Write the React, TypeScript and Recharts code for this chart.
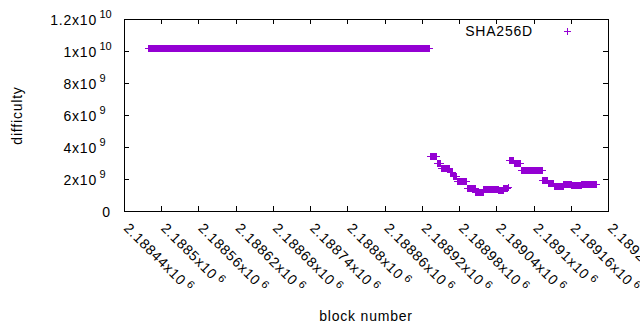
import { Legend, Scatter, ScatterChart, XAxis, YAxis } from "recharts";

const VIOLET = "#9400d3";
const FONT = '"Liberation Sans", Arial, sans-serif';

const W = 640;
const H = 330;
const MARGIN = { top: 19, right: 32, bottom: 0, left: 0 };
const X_AXIS_H = 119;
const Y_AXIS_W = 124;
const PLOT = {
  left: Y_AXIS_W,
  right: W - MARGIN.right,
  top: MARGIN.top,
  bottom: H - X_AXIS_H,
};
const TICK = 5;

// difficulty runs: first block, last block, difficulty
const segStart = [
  2188479, 2188933, 2188944, 2188951, 2188965, 2188970, 2188976, 2188992, 2189006, 2189019, 2189043,
  2189051, 2189059, 2189060, 2189068, 2189080, 2189114, 2189123, 2189133, 2189148, 2189161, 2189177,
];
const segEnd = [
  2188932, 2188943, 2188950, 2188964, 2188969, 2188975, 2188991, 2189005, 2189018, 2189042, 2189050,
  2189057, 2189059, 2189067, 2189078, 2189113, 2189122, 2189132, 2189147, 2189160, 2189176, 2189200,
];
const segDifficulty = [
  1.02e10, 3.41e9, 3.03e9, 2.69e9, 2.42e9, 2.2e9, 1.88e9, 1.44e9, 1.2e9, 1.37e9, 1.29e9,
  1.44e9, 1.53e9, 3.18e9, 2.98e9, 2.54e9, 1.92e9, 1.75e9, 1.56e9, 1.7e9, 1.62e9, 1.67e9,
];

const xTicks = [
  2188440, 2188500, 2188560, 2188620, 2188680, 2188740, 2188800, 2188860, 2188920, 2188980, 2189040,
  2189100, 2189160, 2189220,
];
const yTicks = [0, 2e9, 4e9, 6e9, 8e9, 1e10, 1.2e10];

const X_DOMAIN = [xTicks[0], xTicks[xTicks.length - 1]];
const Y_DOMAIN = [yTicks[0], yTicks[yTicks.length - 1]];

const points = segStart.flatMap((start, i) =>
  Array.from({ length: segEnd[i] - start + 1 }, (_, k) => ({
    block: start + k,
    difficulty: segDifficulty[i],
  }))
);

function sci(v: number) {
  const exp = Math.floor(Math.log10(v));
  const m = Number((v / 10 ** exp).toFixed(5)).toString();
  return { m, exp };
}

function PlusMark({ cx, cy }: any) {
  if (cx == null || cy == null) return null;
  const x = Math.round(cx) + 0.5;
  const y = Math.round(cy) + 0.5;
  return <path d={`M${x - 3.5} ${y}H${x + 3.5}M${x} ${y - 3.5}V${y + 3.5}`} stroke={VIOLET} strokeWidth={1} fill="none" />;
}

// bottom labels plus the inward tick marks on bottom and top borders
function XTickLabel({ x, y, payload }: any) {
  const { m, exp } = sci(payload.value);
  const tx = Math.round(x) + 0.5;
  const ax = x - 1;
  const ay = y + 18;
  return (
    <g>
      <path
        d={`M${tx} ${PLOT.bottom}V${PLOT.bottom - TICK}M${tx} ${PLOT.top}V${PLOT.top + TICK}`}
        stroke="#000"
        strokeWidth={1}
      />
      <text x={ax} y={ay} transform={`rotate(45 ${ax} ${ay})`} fontSize={14} letterSpacing={0.8} fill="#000">
        <tspan>{m}x10</tspan>
        <tspan dx={3} dy={-5} fontSize={11}>
          {exp}
        </tspan>
      </text>
    </g>
  );
}

// left labels plus the inward tick marks on left and right borders
function YTickLabel({ x, y, payload }: any) {
  const ty = Math.round(y) + 0.5;
  const ticks = (
    <path
      d={`M${PLOT.left} ${ty}H${PLOT.left + TICK}M${PLOT.right} ${ty}H${PLOT.right - TICK}`}
      stroke="#000"
      strokeWidth={1}
    />
  );
  if (payload.value === 0) {
    return (
      <g>
        {ticks}
        <text x={x - 14} y={y + 5.5} textAnchor="end" fontSize={14} fill="#000">
          0
        </text>
      </g>
    );
  }
  const { m, exp } = sci(payload.value);
  return (
    <g>
      {ticks}
      <text x={x - 27} y={y + 5.5} textAnchor="end" fontSize={14} letterSpacing={0.8} fill="#000">
        {m}x10
      </text>
      <text x={x - 24.5} y={y - 1} fontSize={11} fill="#000">
        {exp}
      </text>
    </g>
  );
}

function Overlay() {
  return (
    <svg width={W} height={H} style={{ fontFamily: FONT }}>
      <rect
        x={PLOT.left + 0.5}
        y={PLOT.top + 0.5}
        width={PLOT.right - PLOT.left}
        height={PLOT.bottom - PLOT.top}
        fill="none"
        stroke="#000"
        strokeWidth={1}
      />
      <text x={21.5} y={115.5} transform="rotate(-90 21.5 115.5)" textAnchor="middle" fontSize={14} letterSpacing={0.8} fill="#000">
        difficulty
      </text>
      <text x={366} y={320.5} textAnchor="middle" fontSize={14} letterSpacing={0.8} fill="#000">
        block number
      </text>
      <text x={533} y={36} textAnchor="end" fontSize={14} letterSpacing={0.8} fill="#000">
        SHA256D
      </text>
      <path d="M564 31.5H571M567.5 28V35" stroke={VIOLET} strokeWidth={1} />
    </svg>
  );
}

export default function App() {
  return (
    <div style={{ position: "absolute", left: 0, top: 0, fontFamily: FONT, background: "#fff" }}>
      <ScatterChart width={W} height={H} margin={MARGIN}>
        <XAxis
          xAxisId="x"
          type="number"
          dataKey="block"
          domain={X_DOMAIN}
          ticks={xTicks}
          interval={0}
          allowDataOverflow
          height={X_AXIS_H}
          tickSize={0}
          tickMargin={0}
          tickLine={false}
          axisLine={false}
          tick={<XTickLabel />}
        />
        <YAxis
          yAxisId="y"
          type="number"
          dataKey="difficulty"
          domain={Y_DOMAIN}
          ticks={yTicks}
          interval={0}
          allowDataOverflow
          width={Y_AXIS_W}
          tickSize={0}
          tickMargin={0}
          tickLine={false}
          axisLine={false}
          tick={<YTickLabel />}
        />
        <Scatter
          name="SHA256D"
          data={points}
          xAxisId="x"
          yAxisId="y"
          dataKey="difficulty"
          fill={VIOLET}
          shape={PlusMark}
          isAnimationActive={false}
        />
        <Legend
          layout="vertical"
          align="center"
          verticalAlign="middle"
          wrapperStyle={{ position: "absolute", left: 0, top: 0, width: W, height: H, pointerEvents: "none" }}
          content={() => <Overlay />}
        />
      </ScatterChart>
    </div>
  );
}
